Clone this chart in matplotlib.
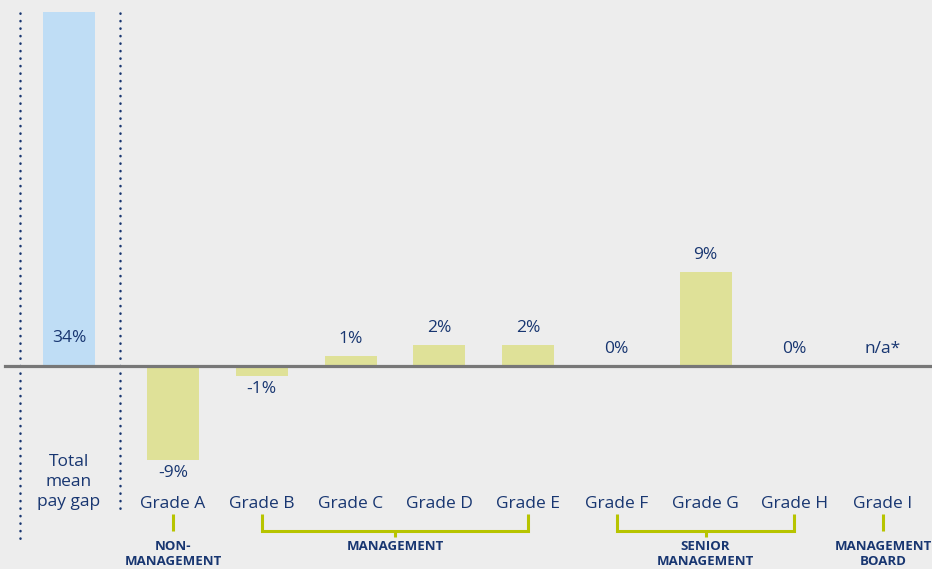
import matplotlib
matplotlib.use("Agg")
import matplotlib.pyplot as plt

# ---- data ----
total_label = "Total\nmean\npay gap"
total_value = 34
grades = ["Grade A", "Grade B", "Grade C", "Grade D", "Grade E",
          "Grade F", "Grade G", "Grade H", "Grade I"]
gaps = [-9, -1, 1, 2, 2, 0, 9, 0, None]
gap_labels = ["-9%", "-1%", "1%", "2%", "2%", "0%", "9%", "0%", "n/a*"]
groups = [("NON-\nMANAGEMENT", 0, 0), ("MANAGEMENT", 1, 4),
          ("SENIOR\nMANAGEMENT", 5, 7), ("MANAGEMENT\nBOARD", 8, 8)]

# ---- style ----
BG = "#EDEDED"
NAVY = "#183671"
BLUE = "#BFDDF5"
KHAKI = "#DFE198"
LIME = "#B7C400"
GREY = "#777777"
FONT = ["Open Sans", "DejaVu Sans"]
WEIGHT = "normal"

W, H = 932, 569
fig = plt.figure(figsize=(W / 100, H / 100), dpi=100, facecolor=BG)
ax = fig.add_axes([0, 0, 1, 1], facecolor=BG)

PX_PER_UNIT_Y = 10.4
BASE_PX = 366
PX_PER_X = 88.75
X0_PX = 173
ax.set_ylim(-(H - BASE_PX) / PX_PER_UNIT_Y, BASE_PX / PX_PER_UNIT_Y)
ax.set_xlim(-X0_PX / PX_PER_X, (W - X0_PX) / PX_PER_X)
ax.axis("off")


def ypx(p):
    return (BASE_PX - p) / PX_PER_UNIT_Y


def xpx(p):
    return (p - X0_PX) / PX_PER_X


total_x = xpx(69)
xs = list(range(len(grades)))
bw = 52 / PX_PER_X

# total bar
ax.bar([total_x], [total_value], width=bw, color=BLUE, zorder=2)
ax.annotate(f"{total_value}%", (total_x, 0), xytext=(0, 28), textcoords="offset pixels",
            ha="center", va="center", color=NAVY, fontsize=12.5, family=FONT,
            fontweight=WEIGHT)
ax.text(total_x, ypx(482), total_label, ha="center", va="center", color=NAVY,
        fontsize=12.5, family=FONT, linespacing=1.32, fontweight=WEIGHT)

# grade bars
vals = [g if g is not None else 0 for g in gaps]
ax.bar(xs, vals, width=bw, color=KHAKI, zorder=2)
for x, v, lab in zip(xs, vals, gap_labels):
    off = -13 if v < 0 else 17
    ax.annotate(lab, (x, v), xytext=(0, off), textcoords="offset pixels",
                ha="center", va="center", color=NAVY, fontsize=12.5, family=FONT,
                fontweight=WEIGHT)
for x, g in zip(xs, grades):
    ax.text(x, ypx(504), g, ha="center", va="center", color=NAVY,
            fontsize=12.5, family=FONT, fontweight=WEIGHT)

# baseline
ax.axhline(0, xmin=5 / W, xmax=1, color=GREY, lw=2.3, zorder=3)

# dotted separators
ax.plot([xpx(20), xpx(20)], [ypx(13), ypx(545)], color=NAVY, lw=1.8,
        linestyle=(0, (0.1, 2.9)), dash_capstyle="round", zorder=1)
ax.plot([xpx(120), xpx(120)], [ypx(13), ypx(510)], color=NAVY, lw=1.8,
        linestyle=(0, (0.1, 2.9)), dash_capstyle="round", zorder=1)

# group brackets
for name, a, b in groups:
    top, bot = ypx(514), ypx(531)
    if a == b:
        ax.plot([a, a], [top, bot], color=LIME, lw=2.2, solid_capstyle="butt")
        cx = a
    else:
        ax.plot([a, a, b, b], [top, bot, bot, top], color=LIME, lw=2.2,
                solid_capstyle="butt", solid_joinstyle="miter")
        cx = (a + b) / 2
        ax.plot([cx, cx], [bot, ypx(537)], color=LIME, lw=2.2, solid_capstyle="butt")
    ax.text(cx, ypx(540), name, ha="center", va="top", color=NAVY,
            fontsize=9.5, fontweight="bold", family=FONT, linespacing=1.2)

fig.savefig("out.png", dpi=100, facecolor=BG)
